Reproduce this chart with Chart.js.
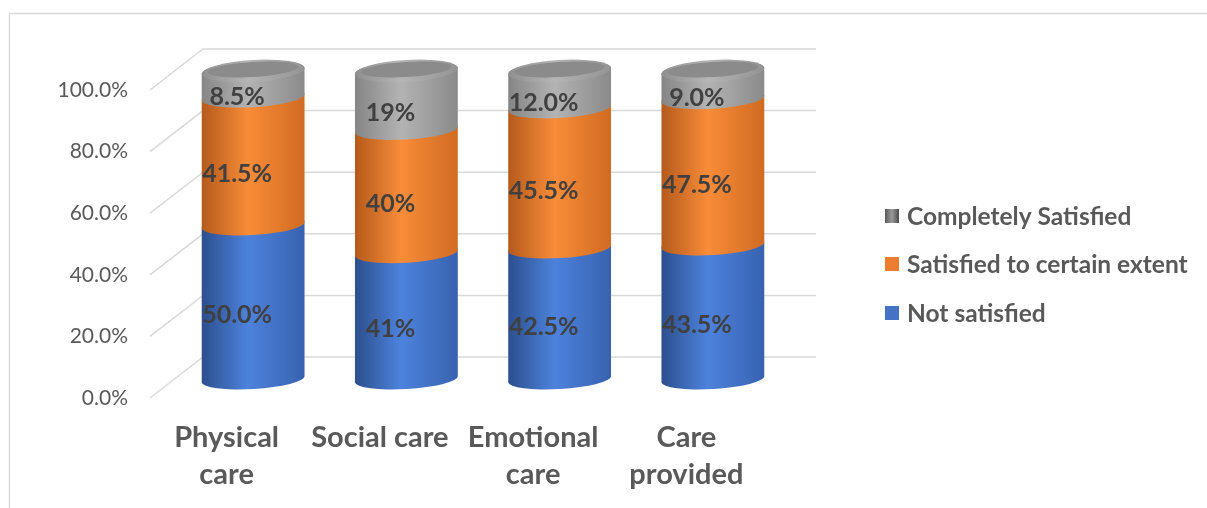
<!DOCTYPE html>
<html><head><meta charset="utf-8">
<script src="https://cdn.jsdelivr.net/npm/chart.js@4.4.0/dist/chart.umd.min.js"></script>
<style>html,body{margin:0;padding:0;background:#fff;}#wrap{width:1207px;height:508px;position:relative;}</style>
</head><body><div id="wrap"><canvas id="c" width="1207" height="508"></canvas></div>
<script>
const categories = [["Physical","care"],"Social care",["Emotional","care"],["Care","provided"]];
const seriesNames = ["Not satisfied","Satisfied to certain extent","Completely Satisfied"];
const notSatisfied = [50.0, 41, 42.5, 43.5];
const satisfiedExtent = [41.5, 40, 45.5, 47.5];
const completelySatisfied = [8.5, 19, 12.0, 9.0];
const notSatisfiedLabels = ["50.0%","41%","42.5%","43.5%"];
const satisfiedExtentLabels = ["41.5%","40%","45.5%","47.5%"];
const completelySatisfiedLabels = ["8.5%","19%","12.0%","9.0%"];
const yTicks = [0,20,40,60,80,100];

const seriesColors = ["#4472C4","#ED7D31","#A5A5A5"];
const shades = [
  ["#2c4f8e","#4d82dc","#3862b0"],
  ["#b55a1c","#f88c38","#d06b22"],
  ["#858585","#b3b3b3","#8a8a8a"]
];
const valueLabels = [notSatisfiedLabels, satisfiedExtentLabels, completelySatisfiedLabels];

const BX = 53, BY = -41;      // back wall offset
const DX = 26.5, DY = -19;    // bar (mid depth) offset
const RY = 10, ROT = -0.06;
const GRID = '#d9d9d9';
const BOLD = 'bold';

const plugin3d = {
  id: 'plugin3d',
  beforeDraw(chart) {
    const ctx = chart.ctx, a = chart.chartArea, y = chart.scales.y;
    ctx.save();
    ctx.fillStyle = '#fff'; ctx.fillRect(0,0,chart.width,chart.height);
    ctx.strokeStyle = '#d9d9d9'; ctx.lineWidth = 1.5;
    ctx.beginPath(); ctx.moveTo(9.5, 509); ctx.lineTo(9.5, 13.5); ctx.lineTo(1207, 13.5); ctx.stroke();
    ctx.strokeStyle = GRID; ctx.lineWidth = 1.5;
    yTicks.forEach(v => {
      const py = y.getPixelForValue(v);
      ctx.beginPath();
      ctx.moveTo(a.left, py);
      ctx.lineTo(a.left + BX, py + BY);
      ctx.lineTo(a.right + BX, py + BY);
      ctx.stroke();
    });
    ctx.restore();
  },
  beforeDatasetsDraw(chart) {
    const ctx = chart.ctx;
    const metas = chart.data.datasets.map((d, i) => chart.getDatasetMeta(i));
    const n = chart.data.labels.length;
    ctx.save();
    for (let i = 0; i < n; i++) {
      let topInfo = null;
      metas.forEach((meta, d) => {
        const el = meta.data[i];
        const w = el.width, rx = w / 2;
        const cx = el.x + DX;
        const left = cx - rx, right = cx + rx;
        const ty = el.y + DY, by = el.base + DY;
        const g = ctx.createLinearGradient(left, 0, right, 0);
        g.addColorStop(0, shades[d][0]);
        g.addColorStop(0.45, shades[d][1]);
        g.addColorStop(1, shades[d][2]);
        ctx.beginPath();
        ctx.ellipse(cx, by, rx, RY, ROT, Math.PI, 0, true);
        ctx.ellipse(cx, ty, rx, RY, ROT, 0, Math.PI, true);
        ctx.closePath();
        ctx.fillStyle = g; ctx.fill();
        topInfo = {cx, ty, rx};
      });
      if (topInfo) {
        const {cx, ty, rx} = topInfo;
        const g2 = ctx.createLinearGradient(cx - rx, 0, cx + rx, 0);
        g2.addColorStop(0, '#8f8f8f'); g2.addColorStop(0.45, '#b5b5b5'); g2.addColorStop(1, '#939393');
        ctx.beginPath(); ctx.ellipse(cx, ty, rx, RY + 1, ROT, 0, Math.PI * 2); ctx.fillStyle = g2; ctx.fill();
        ctx.beginPath(); ctx.ellipse(cx, ty - 1.5, rx * 0.88, RY * 0.75, ROT, 0, Math.PI * 2); ctx.fillStyle = '#8b8b8b'; ctx.fill();
      }
    }
    ctx.font = BOLD + ' 25px Lato';
    ctx.fillStyle = '#404040';
    ctx.textAlign = 'center'; ctx.textBaseline = 'middle';
    metas.forEach((meta, d) => {
      meta.data.forEach((el, i) => {
        const mid = (el.y + el.base) / 2;
        ctx.fillText(valueLabels[d][i], el.x + 10.5, mid - 6);
      });
    });
    ctx.restore();
    return false;
  },
  afterDraw(chart) {
    const ctx = chart.ctx;
    ctx.save();
    const items = [2, 1, 0];
    const ys = [216, 264, 313];
    ctx.font = BOLD + ' 24.5px Lato';
    ctx.textAlign = 'left'; ctx.textBaseline = 'middle';
    items.forEach((d, k) => {
      const yy = ys[k];
      if (d === 2) {
        const g = ctx.createLinearGradient(885, 0, 899, 0);
        g.addColorStop(0, '#5a5a5a'); g.addColorStop(0.5, '#9a9a9a'); g.addColorStop(1, '#4a4a4a');
        ctx.fillStyle = g;
      } else ctx.fillStyle = seriesColors[d];
      ctx.fillRect(885, yy - 7, 14, 14);
      ctx.fillStyle = '#595959';
      ctx.fillText(chart.data.datasets[d].label, 907, yy + 1);
    });
    ctx.restore();
  }
};

new Chart(document.getElementById('c'), {
  type: 'bar',
  data: {
    labels: categories,
    datasets: [
      {label: seriesNames[0], data: notSatisfied, backgroundColor: seriesColors[0]},
      {label: seriesNames[1], data: satisfiedExtent, backgroundColor: seriesColors[1]},
      {label: seriesNames[2], data: completelySatisfied, backgroundColor: seriesColors[2]}
    ]
  },
  options: {
    responsive: false,
    animation: false,
    barPercentage: 0.672,
    categoryPercentage: 1,
    layout: {padding: {top: 90, right: 444, left: 0, bottom: 0}},
    plugins: {legend: {display: false}, tooltip: {enabled: false}},
    scales: {
      x: {
        stacked: true,
        grid: {display: false, drawTicks: false},
        border: {display: false},
        afterFit(s) { s.height = 110; },
        ticks: {
          color: '#595959', maxRotation: 0, autoSkip: false, padding: 21,
          font: {family: 'Lato', size: 29, weight: BOLD, lineHeight: 1.28}
        }
      },
      y: {
        stacked: true, min: 0, max: 100,
        grid: {display: false, drawTicks: false},
        border: {display: false},
        afterFit(s) { s.width = 150; },
        afterBuildTicks(s) { s.ticks = yTicks.map(v => ({value: v})); },
        ticks: {
          color: '#595959', padding: 22,
          font: {family: 'Lato', size: 21},
          callback: v => v.toFixed(1) + '%'
        }
      }
    }
  },
  plugins: [plugin3d]
});
</script>
</body></html>
